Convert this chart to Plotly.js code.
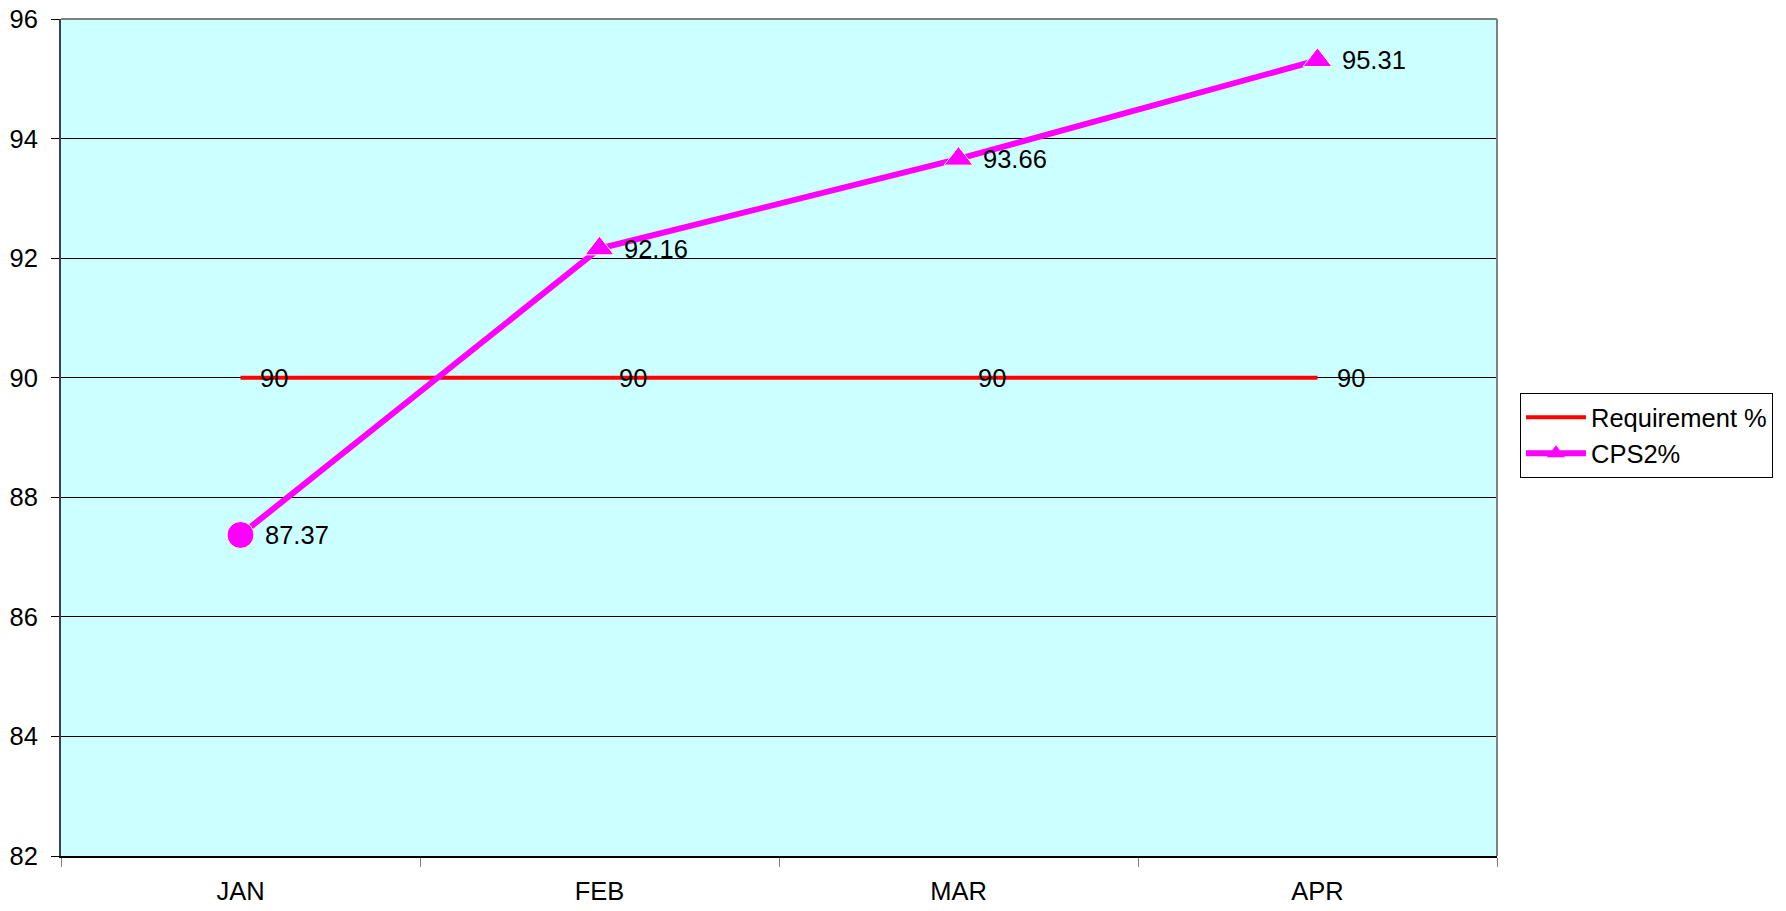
<!DOCTYPE html>
<html>
<head>
<meta charset="utf-8">
<script src="https://cdn.plot.ly/plotly-3.0.1.min.js"></script>
<style>
  html, body { margin: 0; padding: 0; background: #ffffff; }
  #chart { width: 1786px; height: 911px; }
</style>
</head>
<body>
<div id="chart"></div>
<script>
// data
const months = ["JAN", "FEB", "MAR", "APR"];
const requirement = [90, 90, 90, 90];
const cps2 = [87.37, 92.16, 93.66, 95.31];
const yTicks = [82, 84, 86, 88, 90, 92, 94, 96];

const FONT = { family: "Liberation Sans, Arial, sans-serif", color: "#000000", size: 25.5 };
const RED = "#ff0000";
const MAGENTA = "#ff00ff";

const traces = [
  {
    x: months, y: requirement, name: "Requirement %", type: "scatter", mode: "lines",
    line: { color: RED, width: 4 }, legendgroup: "a",
  },
  {
    x: months, y: cps2, name: "CPS2%", type: "scatter", mode: "lines+markers",
    line: { color: MAGENTA, width: 6 },
    marker: {
      color: MAGENTA, opacity: 1,
      symbol: months.map((m, i) => (i === 0 ? "circle" : "triangle-up")),
      size: months.map((m, i) => (i === 0 ? 27 : 25)),
    },
    showlegend: false, legendgroup: "b",
  },
  // legend entry only (first real point is a circle, legend shows a triangle)
  {
    x: [null], y: [null], name: "CPS2%", type: "scatter", mode: "lines+markers",
    line: { color: MAGENTA, width: 6 },
    marker: { color: MAGENTA, opacity: 1, symbol: "triangle-up", size: 16 },
    legendgroup: "b", hoverinfo: "skip",
  },
];

// value labels to the right of each point
const labels = [];
months.forEach((m, i) => {
  labels.push({ x: m, y: requirement[i], text: String(requirement[i]), xshift: 17 });
  labels.push({ x: m, y: cps2[i], text: cps2[i].toFixed(2), xshift: 22 });
});
const annotations = labels.map((l) => ({
  ...l, xref: "x", yref: "y", xanchor: "left", yanchor: "middle",
  showarrow: false, font: FONT,
}));

const layout = {
  width: 1786, height: 911,
  paper_bgcolor: "#ffffff",
  plot_bgcolor: "#ccffff",
  font: FONT,
  margin: { l: 61, r: 289, t: 19, b: 55 },
  showlegend: true,
  legend: {
    x: 1.016, y: 0.553, xanchor: "left", yanchor: "top",
    bgcolor: "#ffffff", bordercolor: "#000000", borderwidth: 1,
    font: FONT, itemwidth: 60, tracegroupgap: 0,
  },
  xaxis: {
    type: "category", range: [-0.5, 3.5],
    showgrid: false, zeroline: false,
    showline: true, linecolor: "#000000", linewidth: 2,
    ticks: "outside", tickson: "boundaries", ticklen: 9, tickcolor: "#808080", tickwidth: 1,
    ticklabelstandoff: 11, tickfont: FONT,
  },
  yaxis: {
    range: [82, 96], tickvals: yTicks,
    showgrid: true, gridcolor: "#000000", gridwidth: 1, zeroline: false,
    showline: true, linecolor: "#404040", linewidth: 2,
    ticks: "outside", ticklen: 8, tickcolor: "#000000", tickwidth: 1,
    ticklabelstandoff: 8, tickfont: FONT,
  },
  shapes: [
    { type: "line", xref: "paper", yref: "paper", x0: 0, x1: 1, y0: 1, y1: 1,
      line: { color: "#808080", width: 2 } },
    { type: "line", xref: "paper", yref: "paper", x0: 1, x1: 1, y0: 0, y1: 1,
      line: { color: "#808080", width: 2 } },
  ],
  annotations: annotations,
};

Plotly.newPlot("chart", traces, layout, { displayModeBar: false, staticPlot: true });
</script>
</body>
</html>
